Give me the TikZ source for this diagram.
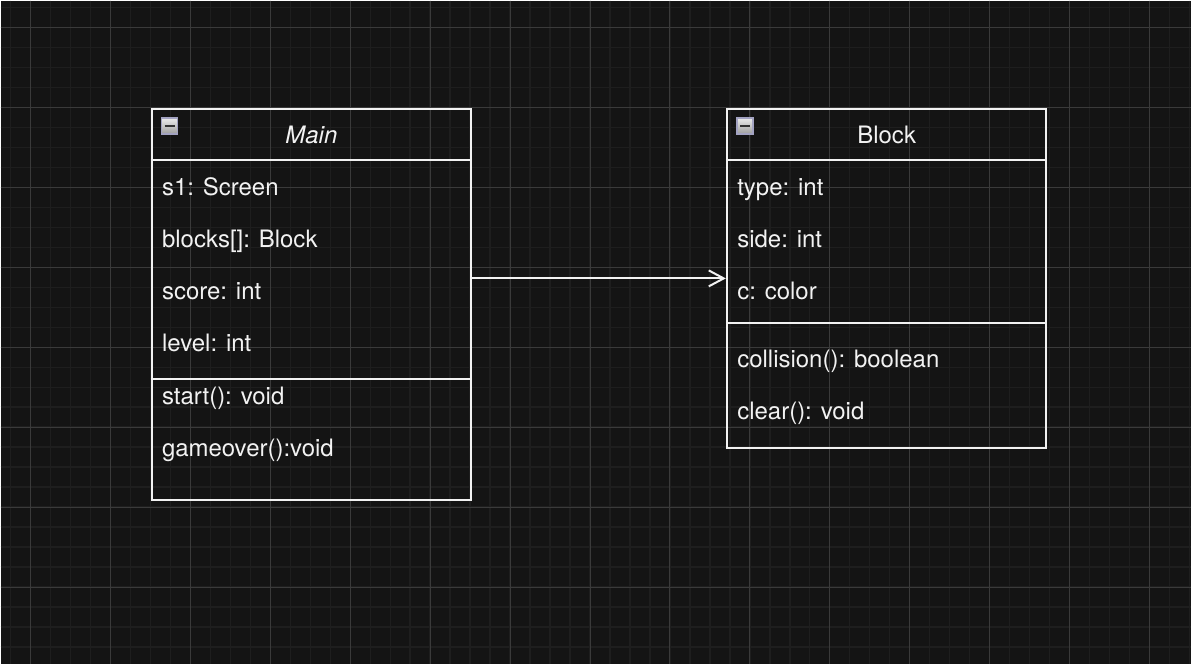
\documentclass[tikz,border=0pt]{standalone}
\usepackage{fontspec}
\setmainfont{TeX Gyre Heros}
\usetikzlibrary{arrows.meta}
\definecolor{bg}{HTML}{141414}
\definecolor{fg}{HTML}{F2F2F2}
\definecolor{gridminor}{HTML}{1E1E1E}
\definecolor{gridmajor}{HTML}{3A3A3A}
\begin{document}
\begin{tikzpicture}[x=1pt, y=-1pt, line width=2pt,
  box/.style={draw=fg, minimum width=320pt, inner sep=0pt},
  attr/.style={anchor=west, inner sep=0pt, text=fg, text height=17pt, text depth=5pt,
    xshift=-1.5pt, yshift=-3pt, font=\fontsize{24pt}{28pt}\selectfont},
  title/.style={attr, anchor=center, xshift=1.5pt},
  icon/.style={draw=gray!80!blue!60, line width=1.5pt, minimum size=16pt, inner sep=0pt,
    top color=white!92!black, bottom color=white!62!black}]
\fill[bg] (0,0) rectangle (1192,664);
% grid
\foreach \x in {10,30,...,1190} \draw[gridminor, line width=1.5pt] (\x,0) -- (\x,664);
\foreach \y in {7,27,...,663} \draw[gridminor, line width=1.5pt] (0,\y) -- (1192,\y);
\foreach \x in {30,110,...,1150} \draw[gridmajor, line width=1pt] (\x,0) -- (\x,664);
\foreach \y in {27,107,...,587} \draw[gridmajor, line width=1pt] (0,\y) -- (1192,\y);

% class Main
\node[box, minimum height=392pt] (main) at (311,304) {};
\draw[fg] ([yshift=-52pt]main.north west) -- ([yshift=-52pt]main.north east);
\draw[fg] ([yshift=-272pt]main.north west) -- ([yshift=-272pt]main.north east);
\node[icon] (mainicon) at (169,125.5) {};
\draw[black!80, line width=2pt] ([xshift=-5pt]mainicon.center) -- ([xshift=5pt]mainicon.center);
\node[title, font=\fontsize{24pt}{28pt}\selectfont\itshape] (maintitle) at (311,134) {Main};
\foreach \y/\t in {186/s1: Screen, 238/blocks[]: Block, 290/score: int, 342/level: int,
    395/start(): void, 447/gameover():void}
  \node[attr] (m\y) at (162,\y) {\t};

% class Block
\node[box, minimum height=340pt] (block) at (887,278) {};
\draw[fg] ([yshift=-52pt]block.north west) -- ([yshift=-52pt]block.north east);
\draw[fg] ([yshift=-216pt]block.north west) -- ([yshift=-216pt]block.north east);
\node[icon] (blockicon) at (745,125.5) {};
\draw[black!80, line width=2pt] ([xshift=-5pt]blockicon.center) -- ([xshift=5pt]blockicon.center);
\node[title] (blocktitle) at (887,134) {Block};
\foreach \y/\t in {186/type: int, 238/side: int, 290/c: color,
    358/collision(): boolean, 410/clear(): void}
  \node[attr] (b\y) at (738,\y) {\t};

% association
\draw[fg, -{Straight Barb[length=15pt,width=16pt]}] (main.east |- block.center) -- (block.west);
\end{tikzpicture}
\end{document}
